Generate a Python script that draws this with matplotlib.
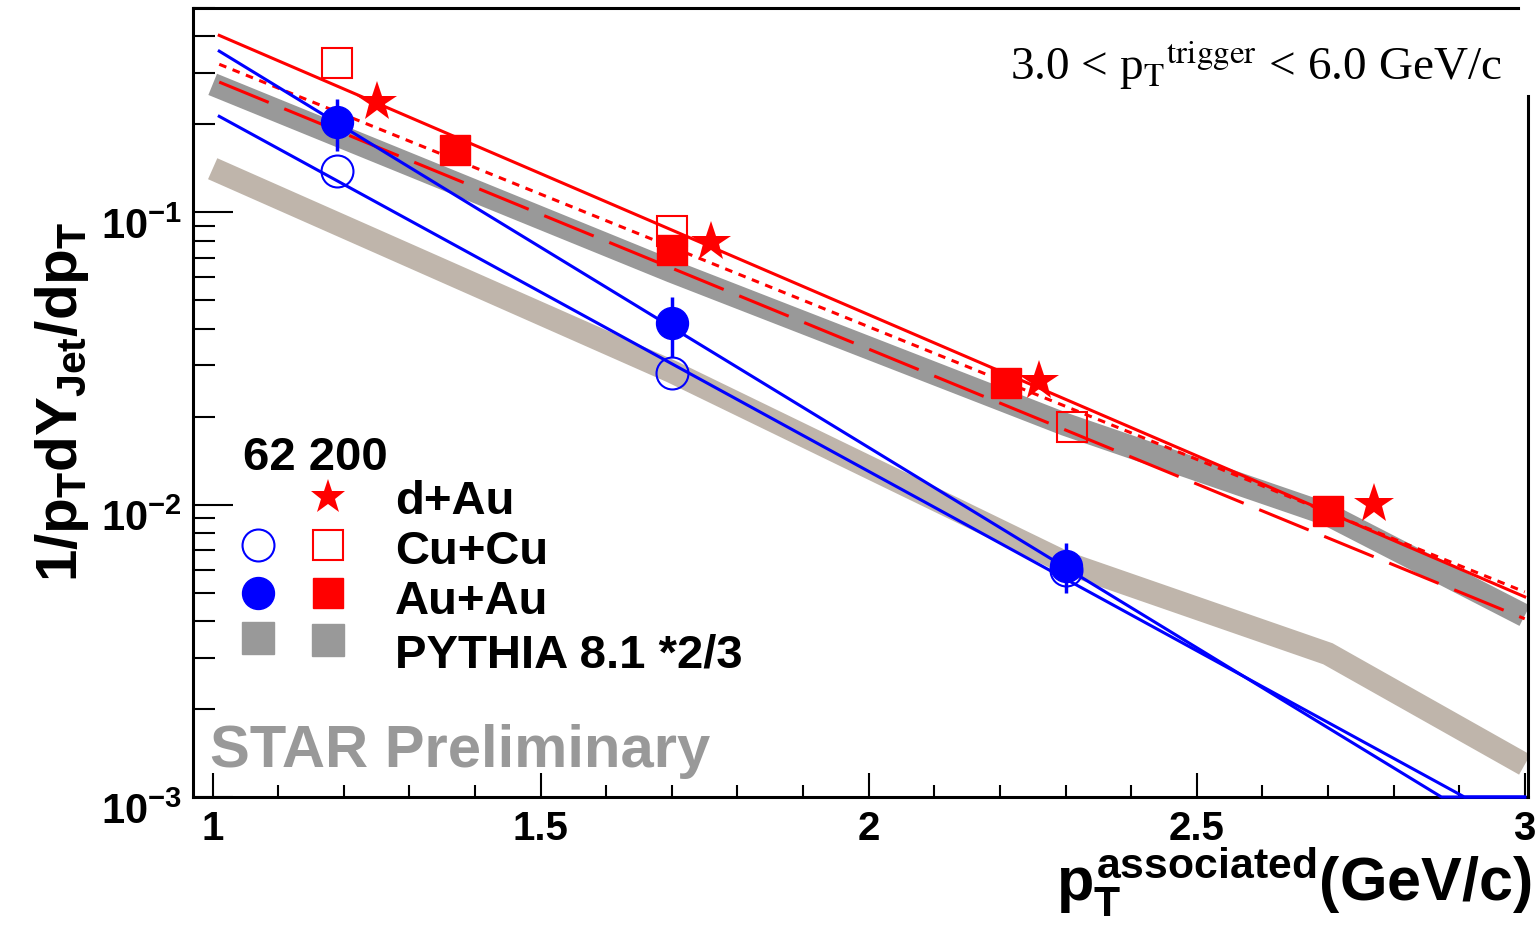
import numpy as np
import matplotlib.pyplot as plt
from matplotlib.ticker import LogLocator, NullFormatter, FixedLocator
from matplotlib.transforms import ScaledTranslation

plt.rcParams['font.family'] = ['Liberation Sans', 'DejaVu Sans']
plt.rcParams['mathtext.fontset'] = 'custom'
plt.rcParams['mathtext.rm'] = 'Liberation Sans:bold'
plt.rcParams['mathtext.it'] = 'Liberation Sans:bold'
plt.rcParams['mathtext.bf'] = 'Liberation Sans:bold'
plt.rcParams['mathtext.sf'] = 'Liberation Sans:bold'

# ---- data: jet-like yield per pT bin ----
# 62 GeV
x_auau62 = [1.19, 1.70, 2.30]
y_auau62 = [0.203, 0.0417, 0.00618]
e_auau62 = [0.041, 0.0098, 0.0012]
x_cucu62 = [1.19, 1.70, 2.30]
y_cucu62 = [0.139, 0.0283, 0.00599]
# 200 GeV
x_cucu200 = [1.19, 1.70, 2.31]
y_cucu200 = [0.324, 0.086, 0.0184]
x_auau200 = [1.37, 1.70, 2.21, 2.70]
y_auau200 = [0.164, 0.0741, 0.0260, 0.00953]
x_dau200 = [1.25, 1.76, 2.26, 2.77]
y_dau200 = [0.238, 0.0789, 0.0264, 0.01007]

# exponential fits
fit_x = [1.01, 3.0]
fit_auau200 = [0.403, 0.00484]
fit_dau200 = [0.321, 0.00503]
fit_cucu200 = [0.279, 0.00407]
fit_auau62_x = [1.01, 2.873, 3.0]
fit_auau62_y = [0.356, 0.001, 0.001]
fit_cucu62_x = [1.01, 2.908, 3.0]
fit_cucu62_y = [0.213, 0.001, 0.001]

# PYTHIA 8.1 (scaled by 2/3)
pythia_x = [1.0, 1.7, 2.3, 2.7, 3.0]
pythia200 = [0.274, 0.0628, 0.0188, 0.00925, 0.00417]
pythia62 = [0.141, 0.0285, 0.00633, 0.00309, 0.00129]

red = '#ff0000'
blue = '#0000ff'
grey = '#999999'
tan = '#bfb5ab'

W, H = 1535, 926
fig = plt.figure(figsize=(W / 100, H / 100), dpi=100)
ax = fig.add_axes([193 / W, 129 / H, 1335 / W, 789 / H])
ax.set_yscale('log')
ax.set_xlim(0.97, 3.005)
ax.set_ylim(1e-3, 0.5)

# bands
ax.plot(pythia_x, pythia62, color=tan, lw=16.5, solid_capstyle='butt',
        solid_joinstyle='miter', zorder=1)
ax.plot(pythia_x, pythia200, color=grey, lw=16.5, solid_capstyle='butt',
        solid_joinstyle='miter', zorder=1)

# fits
ax.plot(fit_x, fit_auau200, color=red, lw=2.2, zorder=2)
ax.plot(fit_x, fit_dau200, color=red, lw=2.2, dashes=(2.5, 2.2), zorder=2)
ax.plot(fit_x, fit_cucu200, color=red, lw=2.2, dashes=(17.5, 5.5), zorder=2)
ax.plot(fit_auau62_x, fit_auau62_y, color=blue, lw=2.2, zorder=3, clip_on=False)
ax.plot(fit_cucu62_x, fit_cucu62_y, color=blue, lw=2.2, zorder=3, clip_on=False)

# data points
ax.errorbar(x_auau62, y_auau62, yerr=e_auau62, fmt='none', ecolor=blue,
            elinewidth=2.5, capsize=0, zorder=4)
ax.plot(x_cucu62, y_cucu62, 'o', ms=23, mfc='none', mec=blue, mew=1.5, zorder=4)
ax.plot(x_auau62, y_auau62, 'o', ms=23, color=blue, zorder=5)
ax.plot(x_cucu200, y_cucu200, 's', ms=22, mfc='none', mec=red, mew=1.5, zorder=4)
ax.plot(x_auau200, y_auau200, 's', ms=22, color=red, zorder=5)
ax.plot(x_dau200, y_dau200, '*', ms=30, color=red, mew=0, zorder=5)

# frame and ticks
for s in ax.spines.values():
    s.set_linewidth(2.2)
ax.spines['right'].set_bounds(1e-3, 0.25)
ax.spines['top'].set_bounds(0.97, 2.99)

ax.set_xticks([1, 1.5, 2, 2.5, 3], labels=['1', '1.5', '2', '2.5', '3'])
ax.xaxis.set_minor_locator(FixedLocator(np.arange(1.0, 3.01, 0.1)))
ax.set_yticks([1e-3, 1e-2, 1e-1],
              labels=[r'$10^{-3}$', r'$10^{-2}$', r'$10^{-1}$'])
ax.yaxis.set_minor_locator(LogLocator(base=10, subs=range(2, 10)))
ax.yaxis.set_minor_formatter(NullFormatter())

ax.tick_params(axis='x', which='major', direction='in', length=17, width=1.5,
               labelsize=29, pad=9, top=False)
ax.tick_params(axis='x', which='minor', direction='in', length=8.5, width=1.5,
               top=False)
ax.tick_params(axis='y', which='major', direction='in', length=29, width=1.5,
               labelsize=30, pad=8, right=False)
ax.tick_params(axis='y', which='minor', direction='in', length=16, width=1.5,
               right=False)
for lab in ax.get_xticklabels():
    lab.set_fontweight('bold')
for lab in ax.get_yticklabels():
    lab.set_transform(lab.get_transform() +
                      ScaledTranslation(0, -8 / 72, fig.dpi_scale_trans))

# axis titles
fig.text(62 / W, 1 - 402 / H, r'$1/p_{T}dY_{Jet}/dp_{T}$', rotation=90,
         fontsize=42, ha='center', va='center')
fig.text(1532 / W, 1 - 882 / H, r'$p_{T}^{associated}$(GeV/c)', fontsize=44,
         fontweight='bold', ha='right', va='center')

fig.text(1010 / W, 1 - 65 / H, r'3.0 < p$_{\mathrm{T}}{}^{\mathrm{trigger}}$ < 6.0 GeV/c',
         family='Liberation Serif', math_fontfamily='stix', fontsize=34,
         ha='left', va='center')

# legend
def px(x, y):
    return x / W, 1 - y / H

def swatch(x, y, **kw):
    ax.plot(*px(x, y), transform=fig.transFigure, clip_on=False, **kw)

def label(x, y, s, size=34, **kw):
    fig.text(*px(x, y), s, fontsize=size, fontweight='bold', va='baseline', **kw)

label(243, 470, '62 200')
swatch(328, 497, marker='*', ms=26, color=red, mew=0, ls='none')
label(395, 514, 'd+Au')
swatch(258, 545, marker='o', ms=23, mfc='none', mec=blue, mew=1.5, ls='none')
swatch(328, 545, marker='s', ms=22, mfc='none', mec=red, mew=1.5, ls='none')
label(395, 564, 'Cu+Cu')
swatch(258, 593, marker='o', ms=23, color=blue, ls='none')
swatch(328, 593, marker='s', ms=22, color=red, ls='none')
label(395, 614, 'Au+Au')
swatch(258, 638, marker='s', ms=23, color=grey, ls='none')
swatch(328, 640, marker='s', ms=23, color=grey, ls='none')
label(395, 668, 'PYTHIA 8.1 *2/3')

label(210, 767, 'STAR Preliminary', size=43, color=grey)

fig.savefig('out.png', dpi=100)
